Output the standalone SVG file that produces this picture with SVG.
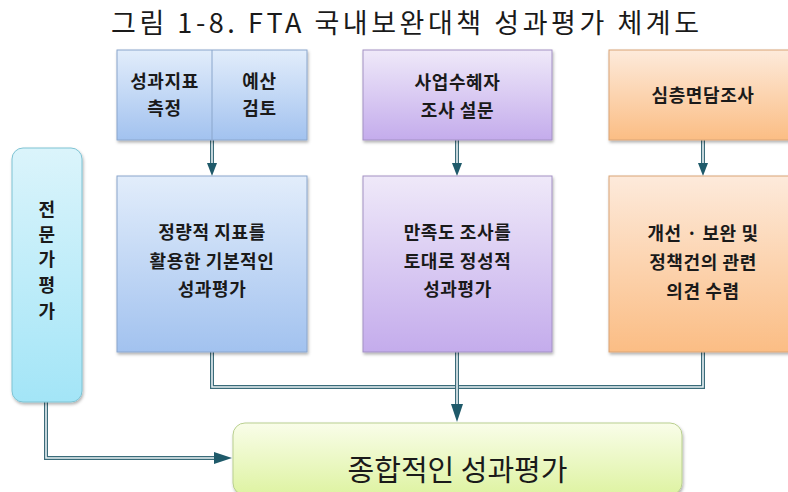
<svg xmlns="http://www.w3.org/2000/svg" width="788" height="492" viewBox="0 0 788 492">
<style>
text{font-family:"Noto Sans CJK KR","Noto Sans",sans-serif;fill:#1a1a1a;text-anchor:middle}
.t{font-size:18px;font-weight:bold;letter-spacing:0.6px}
.title{font-size:27px}
.big{font-size:29px}
.bl{stroke:#8aa6cc;stroke-width:1}
.pu{stroke:#a391c4;stroke-width:1}
.or{stroke:#d9a476;stroke-width:1}
.cy{stroke:#7ec3d3;stroke-width:1}
.gr{stroke:#b9cf8f;stroke-width:1}
.lo{fill:none;stroke:#3b6c7a;stroke-width:4;stroke-linejoin:miter}
.li{fill:none;stroke:#e9f1f4;stroke-width:1.6;stroke-linejoin:miter}
.ah{fill:#1f5a6a}
</style>
<defs>
<linearGradient id="gBlue" x1="0" y1="0" x2="0" y2="1"><stop offset="0" stop-color="#e2edfb"/><stop offset="1" stop-color="#a2c2ef"/></linearGradient>
<linearGradient id="gPurple" x1="0" y1="0" x2="0" y2="1"><stop offset="0" stop-color="#efe9f9"/><stop offset="1" stop-color="#c4acec"/></linearGradient>
<linearGradient id="gOrange" x1="0" y1="0" x2="0" y2="1"><stop offset="0" stop-color="#fdeadb"/><stop offset="1" stop-color="#fbbd84"/></linearGradient>
<linearGradient id="gCyan" x1="0" y1="0" x2="0" y2="1"><stop offset="0" stop-color="#dbf4fb"/><stop offset="1" stop-color="#a3e5f7"/></linearGradient>
<linearGradient id="gGreen" x1="0" y1="0" x2="0" y2="1"><stop offset="0" stop-color="#f9fde9"/><stop offset="1" stop-color="#def3a2"/></linearGradient>
<filter id="sh" x="-10%" y="-10%" width="130%" height="130%"><feDropShadow dx="1" dy="2" stdDeviation="1.5" flood-color="#000" flood-opacity="0.3"/></filter>
</defs>
<rect width="788" height="492" fill="#fff"/>
<text class="title" x="405" y="33" textLength="588">그림 1-8. FTA 국내보완대책 성과평가 체계도</text>

<g id="connectors">
<path class="lo" d="M212 352 V387 H703 V352"/>
<path class="li" d="M212 352 V387 H703 V352"/>
<path class="lo" d="M46 402 V458 H216"/>
<path class="li" d="M46 402 V458 H216"/>
<path class="lo" d="M457 352 V406"/>
<path class="li" d="M457 352 V406"/>
<polygon class="ah" points="451,404 463,404 457,422"/>
<polygon class="ah" points="214,452 214,464 232,458"/>
<path class="lo" d="M212 140 V165"/><path class="li" d="M212 140 V165"/>
<polygon class="ah" points="207,163 217,163 212,176"/>
<path class="lo" d="M457 140 V165"/><path class="li" d="M457 140 V165"/>
<polygon class="ah" points="452,163 462,163 457,176"/>
<path class="lo" d="M703 140 V165"/><path class="li" d="M703 140 V165"/>
<polygon class="ah" points="698,163 708,163 703,176"/>
</g>

<g id="n-measure">
<rect x="117" y="50" width="190" height="90" fill="url(#gBlue)" class="bl" filter="url(#sh)"/>
<line x1="212" y1="50" x2="212" y2="140" class="bl"/>
<text class="t" x="164.5" y="88">성과지표</text>
<text class="t" x="164.5" y="115">측정</text>
<text class="t" x="259.5" y="88">예산</text>
<text class="t" x="259.5" y="115">검토</text>
</g>

<g id="n-survey">
<rect x="363" y="50" width="189" height="90" fill="url(#gPurple)" class="pu" filter="url(#sh)"/>
<text class="t" x="457.5" y="89">사업수혜자</text>
<text class="t" x="457.5" y="117">조사 설문</text>
</g>

<g id="n-interview">
<rect x="609" y="50" width="189" height="90" fill="url(#gOrange)" class="or" filter="url(#sh)"/>
<text class="t" x="703" y="102">심층면담조사</text>
</g>

<g id="n-quant">
<rect x="117" y="176" width="190" height="176" fill="url(#gBlue)" class="bl" filter="url(#sh)"/>
<text class="t" x="212" y="239">정량적 지표를</text>
<text class="t" x="212" y="268">활용한 기본적인</text>
<text class="t" x="212" y="296">성과평가</text>
</g>

<g id="n-qual">
<rect x="363" y="176" width="189" height="176" fill="url(#gPurple)" class="pu" filter="url(#sh)"/>
<text class="t" x="457.5" y="239">만족도 조사를</text>
<text class="t" x="457.5" y="268">토대로 정성적</text>
<text class="t" x="457.5" y="296">성과평가</text>
</g>

<g id="n-opinion">
<rect x="609" y="176" width="189" height="176" fill="url(#gOrange)" class="or" filter="url(#sh)"/>
<text class="t" x="703" y="240">개선 · 보완 및</text>
<text class="t" x="703" y="269">정책건의 관련</text>
<text class="t" x="703" y="298">의견 수렴</text>
</g>

<g id="n-expert">
<rect x="12" y="148" width="70" height="254" rx="11" fill="url(#gCyan)" class="cy" filter="url(#sh)"/>
<text class="t" x="47" y="216">전</text>
<text class="t" x="47" y="241">문</text>
<text class="t" x="47" y="266">가</text>
<text class="t" x="47" y="292">평</text>
<text class="t" x="47" y="318">가</text>
</g>

<g id="n-total">
<rect x="233" y="423" width="449" height="72" rx="12" fill="url(#gGreen)" class="gr" filter="url(#sh)"/>
<text class="big" x="457.5" y="481">종합적인 성과평가</text>
</g>
</svg>
